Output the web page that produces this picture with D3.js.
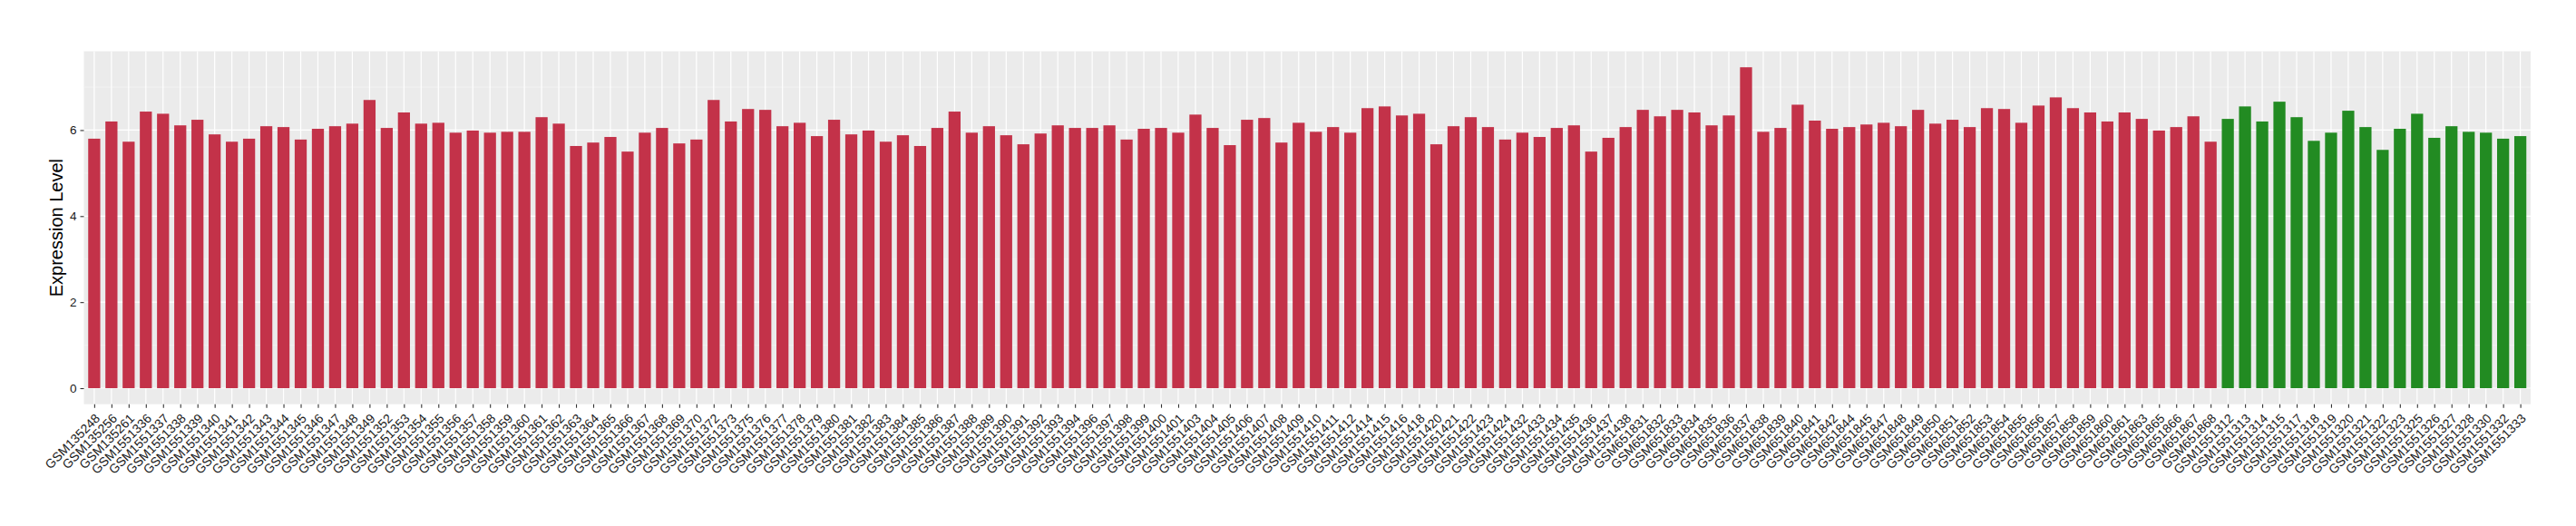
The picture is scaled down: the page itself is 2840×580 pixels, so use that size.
<html>
<script src="https://d3js.org/d3.v7.min.js"></script>
<style>
  body { margin: 0; background: #fff; }
  text { font-family: "Liberation Sans", Arial, sans-serif; }
</style>
<body>
</body>
<script>
    var width = 2840, height = 580;
    var panel = {left: 92.5, right: 2790, top: 56.5, bottom: 445.7};

    // samples of the first (red) group, in plotted order
    let samplesRed = [
        "GSM135248","GSM135256","GSM135261","GSM1551336","GSM1551337","GSM1551338","GSM1551339","GSM1551340",
        "GSM1551341","GSM1551342","GSM1551343","GSM1551344","GSM1551345","GSM1551346","GSM1551347","GSM1551348",
        "GSM1551349","GSM1551352","GSM1551353","GSM1551354","GSM1551355","GSM1551356","GSM1551357","GSM1551358",
        "GSM1551359","GSM1551360","GSM1551361","GSM1551362","GSM1551363","GSM1551364","GSM1551365","GSM1551366",
        "GSM1551367","GSM1551368","GSM1551369","GSM1551370","GSM1551372","GSM1551373","GSM1551375","GSM1551376",
        "GSM1551377","GSM1551378","GSM1551379","GSM1551380","GSM1551381","GSM1551382","GSM1551383","GSM1551384",
        "GSM1551385","GSM1551386","GSM1551387","GSM1551388","GSM1551389","GSM1551390","GSM1551391","GSM1551392",
        "GSM1551393","GSM1551394","GSM1551396","GSM1551397","GSM1551398","GSM1551399","GSM1551400","GSM1551401",
        "GSM1551403","GSM1551404","GSM1551405","GSM1551406","GSM1551407","GSM1551408","GSM1551409","GSM1551410",
        "GSM1551411","GSM1551412","GSM1551414","GSM1551415","GSM1551416","GSM1551418","GSM1551420","GSM1551421",
        "GSM1551422","GSM1551423","GSM1551424","GSM1551432","GSM1551433","GSM1551434","GSM1551435","GSM1551436",
        "GSM1551437","GSM1551438","GSM651831","GSM651832","GSM651833","GSM651834","GSM651835","GSM651836",
        "GSM651837","GSM651838","GSM651839","GSM651840","GSM651841","GSM651842","GSM651844","GSM651845",
        "GSM651847","GSM651848","GSM651849","GSM651850","GSM651851","GSM651852","GSM651853","GSM651854",
        "GSM651855","GSM651856","GSM651857","GSM651858","GSM651859","GSM651860","GSM651861","GSM651863",
        "GSM651865","GSM651866","GSM651867","GSM651868"
    ];
    let valuesRed = [
        5.80,6.20,5.73,6.43,6.38,6.11,6.24,5.90, 5.73,5.80,6.09,6.07,5.78,6.03,6.09,6.15,
        6.70,6.05,6.41,6.15,6.17,5.94,5.99,5.94, 5.96,5.96,6.30,6.15,5.63,5.71,5.84,5.50,
        5.94,6.05,5.69,5.78,6.70,6.20,6.49,6.47, 6.09,6.17,5.86,6.24,5.90,5.99,5.73,5.88,
        5.63,6.05,6.43,5.94,6.09,5.88,5.67,5.92, 6.11,6.05,6.05,6.11,5.78,6.03,6.05,5.94,
        6.36,6.05,5.65,6.24,6.28,5.71,6.17,5.96, 6.07,5.94,6.51,6.55,6.34,6.38,5.67,6.09,
        6.30,6.07,5.78,5.94,5.84,6.05,6.11,5.50, 5.82,6.07,6.47,6.32,6.47,6.41,6.11,6.34,
        7.46,5.96,6.05,6.59,6.22,6.03,6.07,6.13, 6.17,6.09,6.47,6.15,6.24,6.07,6.51,6.49,
        6.17,6.57,6.76,6.51,6.41,6.20,6.41,6.26, 5.99,6.07,6.32,5.73
    ];

    // samples of the second (green) group
    let samplesGreen = [
        "GSM1551312","GSM1551313","GSM1551314","GSM1551315","GSM1551317","GSM1551318","GSM1551319","GSM1551320",
        "GSM1551321","GSM1551322","GSM1551323","GSM1551325","GSM1551326","GSM1551327","GSM1551328","GSM1551330",
        "GSM1551332","GSM1551333"
    ];
    let valuesGreen = [
        6.26,6.55,6.20,6.66,6.30,5.75,5.94,6.45, 6.07,5.54,6.03,6.38,5.82,6.09,5.96,5.94,
        5.80,5.86
    ];

    let yTicks = [0, 2, 4, 6];
    let yMinor = [1, 3, 5, 7];
    let colors = ["#C33249", "#228B22"];

    // build the table
    let data = [];
    samplesRed.forEach((s, i) => data.push({name: s, value: valuesRed[i], group: 0}));
    samplesGreen.forEach((s, i) => data.push({name: s, value: valuesGreen[i], group: 1}));

    let svg = d3.select("body").append("svg")
        .attr("width", width)
        .attr("height", height);

    let x = d3.scalePoint()
        .domain(data.map(d => d.name))
        .range([panel.left, panel.right])
        .padding(0.6);
    let barW = x.step() * 0.7;

    let maxV = d3.max(data, d => d.value);
    let ext = maxV * 0.05;
    let y = d3.scaleLinear()
        .domain([-ext, maxV + ext])
        .range([panel.bottom, panel.top]);

    // panel background
    svg.append("rect")
        .attr("x", panel.left)
        .attr("y", panel.top)
        .attr("width", panel.right - panel.left)
        .attr("height", panel.bottom - panel.top)
        .attr("fill", "#EBEBEB");

    // grid lines
    yMinor.forEach(t =>
        svg.append("line")
            .attr("x1", panel.left).attr("x2", panel.right)
            .attr("y1", y(t)).attr("y2", y(t))
            .attr("stroke", "#F7F7F7")
            .attr("stroke-width", 0.6)
    );
    yTicks.forEach(t =>
        svg.append("line")
            .attr("x1", panel.left).attr("x2", panel.right)
            .attr("y1", y(t)).attr("y2", y(t))
            .attr("stroke", "white")
            .attr("stroke-width", 1.2)
    );
    svg.append("g").selectAll("line")
        .data(data)
        .enter().append("line")
        .attr("x1", d => x(d.name)).attr("x2", d => x(d.name))
        .attr("y1", panel.top).attr("y2", panel.bottom)
        .attr("stroke", "white")
        .attr("stroke-width", 1.2);

    // bars
    svg.append("g").selectAll("rect")
        .data(data)
        .enter().append("rect")
        .attr("x", d => x(d.name) - barW / 2)
        .attr("width", barW)
        .attr("y", d => y(d.value))
        .attr("height", d => y(0) - y(d.value))
        .attr("fill", d => colors[d.group]);

    // y axis
    let yAxis = svg.append("g")
        .attr("transform", "translate(" + panel.left + ",0)")
        .call(d3.axisLeft(y).tickValues(yTicks).tickSize(4).tickPadding(4).tickFormat(d3.format("d")));
    yAxis.select(".domain").remove();
    yAxis.selectAll(".tick line").attr("stroke", "#333333").attr("stroke-width", 1.1);
    yAxis.selectAll(".tick text")
        .attr("fill", "#1A1A1A")
        .style("font-size", "13.5px")
        .style("font-family", "'Liberation Sans', Arial, sans-serif");

    // x axis
    let xAxis = svg.append("g")
        .attr("transform", "translate(0," + panel.bottom + ")")
        .call(d3.axisBottom(x).tickSize(4).tickFormat(""));
    xAxis.select(".domain").remove();
    xAxis.selectAll(".tick line").attr("stroke", "#333333").attr("stroke-width", 1.1);

    svg.append("g").selectAll("text")
        .data(data)
        .enter().append("text")
        .attr("transform", d => "translate(" + x(d.name) + "," + (panel.bottom + 9.5) + ") rotate(-45)")
        .attr("text-anchor", "end")
        .attr("dy", "0.72em")
        .attr("fill", "#1A1A1A")
        .style("font-size", "14px")
        .text(d => d.name);

    // y axis title
    svg.append("text")
        .attr("transform", "translate(69," + ((panel.top + panel.bottom) / 2) + ") rotate(-90)")
        .attr("text-anchor", "middle")
        .attr("fill", "black")
        .style("font-size", "20px")
        .text("Expression Level");
</script>
</html>
